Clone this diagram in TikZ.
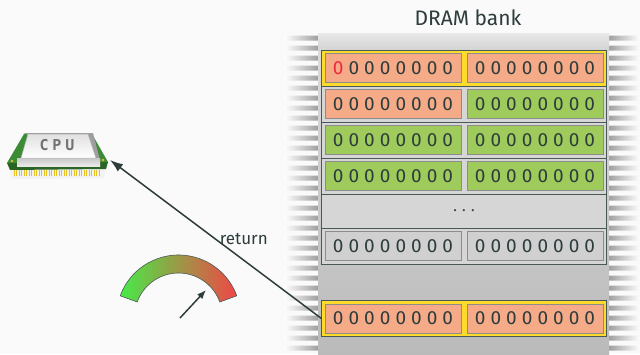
\documentclass[tikz,border=0pt]{standalone}
\usepackage{fontspec}
\setmainfont{Fira Sans}
\newfontfamily\chipfont{DejaVu Sans Mono}[LetterSpace=25]
\usetikzlibrary{arrows.meta,positioning}

\definecolor{ink}{HTML}{2E3C3C}
\definecolor{salmon}{HTML}{F5AA88}
\definecolor{leaf}{HTML}{9FCB5C}
\definecolor{ash}{HTML}{D0D0D0}
\definecolor{rowbg}{HTML}{D6D6D6}
\definecolor{edge}{HTML}{4A5858}
\definecolor{hilite}{HTML}{FCDB2C}
\definecolor{bitred}{HTML}{F0283C}
\definecolor{pcb}{HTML}{3C8C36}
\definecolor{pcbside}{HTML}{2A6526}
\definecolor{gold}{HTML}{E8C020}
\definecolor{gaugegreen}{HTML}{48EA48}
\definecolor{gaugemid}{HTML}{ADA052}
\definecolor{gaugered}{HTML}{F04646}

\newcommand{\zerobyte}{0 0 0 0 0 0 0 0}

\tikzset{
  bankrow/.style={draw=edge, line width=0.9pt, fill=rowbg, minimum width=285pt,
    minimum height=36pt, inner sep=0pt, outer sep=0pt},
  cell/.style={draw=black!45, line width=0.8pt, minimum width=136pt, minimum height=29pt,
    inner sep=0pt, text=ink, font=\fontsize{19}{20}\selectfont},
  pin/.style={rounded corners=2.5pt},
  flow/.style={draw=ink, line width=1.5pt, -{Latex[length=13pt,width=9pt]}},
}

\begin{document}
\begin{tikzpicture}[x=1pt,y=-1pt]
  \useasboundingbox (0,0) rectangle (640,354);
  \fill[black!2] (0,0) rectangle (640,354);

  % pins on both sides of the chip
  \foreach \y in {38,48,...,348} {
    \shade[pin, left color=white, right color=black!42] (284,\y-2.5) rectangle (322,\y+2.5);
    \shade[pin, left color=black!42, right color=white] (605,\y-2.5) rectangle (640,\y+2.5);
  }

  % chip body
  \shade[top color=black!13, bottom color=black!27] (318,33) rectangle (609,354);
  \shade[top color=black!9, bottom color=black!17] (318,33) rectangle (609,50);

  \node[font=\fontsize{21}{22}\selectfont, text=ink] (title) at (468,18) {DRAM bank};

  % rows of the bank
  \node[bankrow, fill=hilite] (row1) at (464,68) {};
  \foreach \r/\y in {2/104,3/140,4/176,6/246}
    \node[bankrow] (row\r) at (464,\y) {};
  \node[bankrow, minimum height=34pt, font=\fontsize{15}{16}\selectfont, text=ink] (gap) at (464,211) {. . .};

  \node[cell, fill=salmon] (l1) at (393,68) {\textcolor{bitred}{0} 0 0 0 0 0 0 0};
  \node[cell, fill=salmon] (r1) at (535,68) {\zerobyte};
  \node[cell, fill=salmon] (l2) at (393,104) {\zerobyte};
  \node[cell, fill=leaf] (r2) at (535,104) {\zerobyte};
  \foreach \r/\y in {3/140,4/176} {
    \node[cell, fill=leaf] (l\r) at (393,\y) {\zerobyte};
    \node[cell, fill=leaf] (r\r) at (535,\y) {\zerobyte};
  }
  \node[cell, fill=ash] (l6) at (393,246) {\zerobyte};
  \node[cell, fill=ash] (r6) at (535,246) {\zerobyte};

  % row that is read out
  \node[bankrow, fill=hilite] (hot) at (464,318.5) {};
  \node[cell, fill=salmon] (hotl) at (393,318.5) {\zerobyte};
  \node[cell, fill=salmon] (hotr) at (535,318.5) {\zerobyte};

  % processor
  \fill[black!5] (9,166) -- (106,164) -- (104,178) -- (12,179) -- cycle;
  \foreach \x in {14,16.5,...,100}
    \draw[gold, line width=0.9pt] (\x,170) -- (\x,176);
  \fill[pcbside] (7,163) -- (108,162) -- (106,169) -- (10,170) -- cycle;
  \fill[pcb] (24,134) -- (92,134) -- (108,162) -- (7,163) -- cycle;
  \fill[gold] (12,161) circle (1.3pt) (103,160) circle (1.3pt);
  \fill[black!38] (23,133) -- (93,133) -- (100,160) -- (17,160) -- (17,166) -- (100,166) -- (100,160) -- cycle;
  \shade[top color=black!22, bottom color=black!8] (17,158) -- (100,158) -- (100,166) -- (17,166) -- cycle;
  \shade[top color=black!12, bottom color=white, draw=black!30, line width=0.5pt]
    (28,134) -- (88,134) -- (96,158) -- (21,158) -- cycle;
  \node[font=\chipfont\bfseries\fontsize{15}{15}\selectfont, text=black!55] (cpu) at (57,145) {CPU};
  \coordinate (cpuport) at (110,160);

  % read path
  \draw[flow] (hot.west) -- (cpuport)
    node[midway, right, font=\fontsize{17}{18}\selectfont, text=ink] {return};

  % gauge
  \coordinate (g) at (178.5,317);
  \shade[left color=gaugegreen, middle color=gaugemid, right color=gaugered, draw=edge, line width=0.6pt]
    ([shift={(-160:62)}]g) arc[start angle=-160, end angle=-20, radius=62]
    -- ([shift={(-20:44)}]g) arc[start angle=-20, end angle=-160, radius=44] -- cycle;
  \draw[draw=ink, line width=1.5pt, -{Latex[length=9pt,width=7pt]}] (180,318) -- (206,290);
\end{tikzpicture}
\end{document}
